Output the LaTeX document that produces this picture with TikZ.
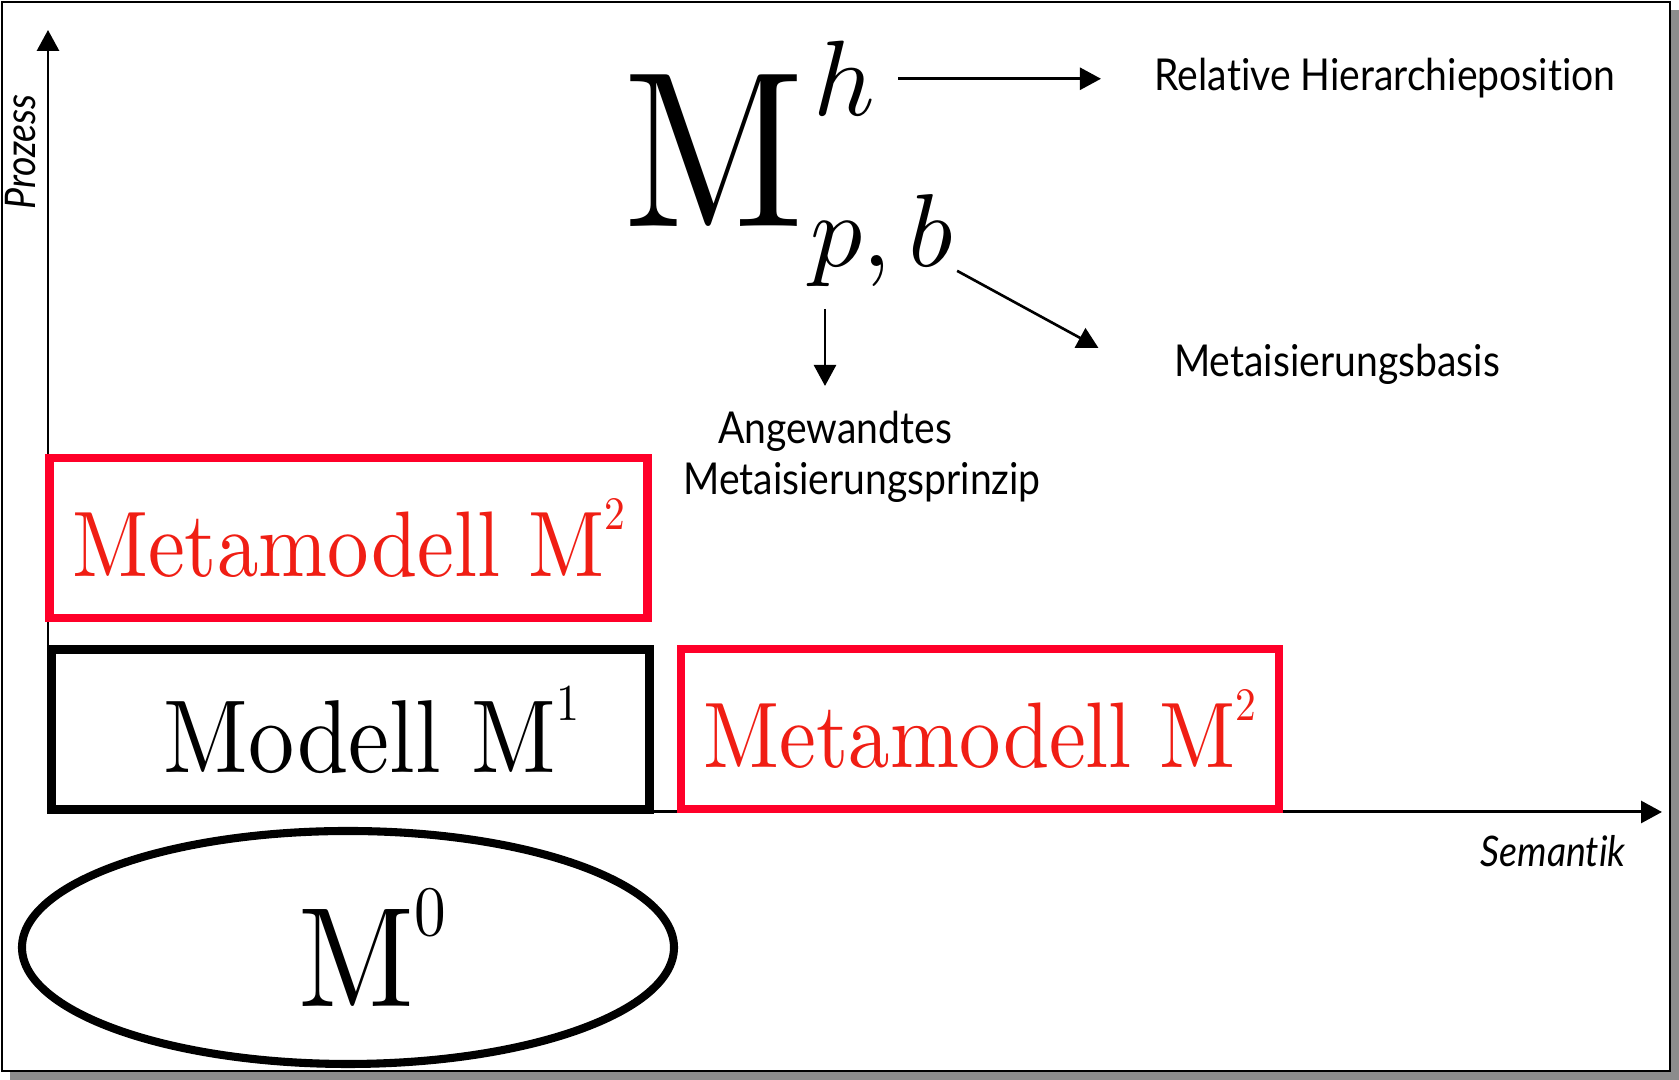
\documentclass[tikz,border=0pt]{standalone}
\usepackage{fontspec}
\usepackage{graphicx}
\usetikzlibrary{arrows.meta,shapes.geometric}
\newfontfamily\labelfont[Ligatures=NoCommon]{Lato}
\newfontfamily\romanten{lmroman10-regular.otf}
\definecolor{frame-shadow}{HTML}{8C8C8C}
\definecolor{box-red}{HTML}{FF0029}
\definecolor{text-red}{HTML}{F01E14}
\newcommand{\squeeze}[1]{\scalebox{0.89}[1]{#1}}
\newcommand{\hoch}[1]{\raisebox{0.5em}{\scalebox{0.5}{#1}}}

\begin{document}
\begin{tikzpicture}[
      axis/.style={line width=0.85pt, -{Triangle[length=2.1mm,width=2.2mm]}},
      pointer/.style={line width=0.75pt, -{Triangle[length=2.1mm,width=2.2mm]}},
      modelbox/.style={draw, line width=2.3pt, inner sep=0pt,
        minimum width=5.98cm, minimum height=1.6cm},
      metabox/.style={modelbox, draw=box-red, text=text-red,
        font=\romanten\fontsize{26.5}{30}\selectfont},
      caption/.style={inner sep=0pt, font=\labelfont\fontsize{12.5}{14.5}\selectfont},
      axislabel/.style={inner sep=0pt, font=\labelfont\itshape\fontsize{12}{14}\selectfont}]
    \useasboundingbox (0,0) rectangle (16.79,10.8);
    % frame with shadow
    \fill[frame-shadow] (0.10,0) rectangle (16.79,10.70);
    \draw[line width=0.8pt, fill=white] (0.02,0.09) rectangle (16.70,10.78);
    % axes
    \coordinate (origin) at (0.48,2.68);
    \coordinate (ytip) at (0.48,10.50);
    \coordinate (xtip) at (16.62,2.68);
    \draw[axis] (origin) -- (ytip);
    \draw[axis] (origin) -- (xtip);
    \node[axislabel, rotate=90] (prozess) at (0.21,9.28) {\squeeze{Prozess}};
    \node[axislabel, anchor=base] (semantik) at (15.53,2.13) {\squeeze{Semantik}};
    % model levels
    \node[metabox] (metaoben) at (3.485,5.42) {\squeeze{Metamodell M\hoch{2}}};
    \node[modelbox, font=\romanten\fontsize{29.5}{32}\selectfont] (modell) at (3.505,3.505)
          {\hspace*{0.42cm}\squeeze{Modell M\hoch{1}}};
    \node[metabox] (metarechts) at (9.80,3.51) {\squeeze{Metamodell M\hoch{2}}};
    \node[draw, ellipse, line width=2.3pt, minimum width=6.52cm, minimum height=2.33cm,
          font=\romanten\fontsize{40.4}{44}\selectfont] (mnull) at (3.48,1.325)
          {\hspace*{0.48cm}\squeeze{M\hoch{0}}};
    % notation
    \node[anchor=base west, inner sep=0pt, font=\romanten\fontsize{63.2}{70}\selectfont]
          (msym) at (6.23,8.53) {\squeeze{M}};
    \node[anchor=base west, inner sep=0pt] (hsup) at (8.13,9.64) {\scalebox{3.05}{$h$}};
    \node[anchor=base west, inner sep=0pt] (pbsub) at (8.10,8.13) {\scalebox{2.95}{$p,b$}};
    \node[caption, anchor=base] (rel) at (13.85,9.89) {\squeeze{Relative Hierarchieposition}};
    \node[caption, anchor=base] (basis) at (13.37,7.03) {\squeeze{Metaisierungsbasis}};
    \node[caption, anchor=north, align=center] (prinzip) at (8.62,6.70)
          {\squeeze{Angewandtes}\hspace*{0.54cm}\\\squeeze{Metaisierungsprinzip}};
    \draw[pointer, shorten <=2.2mm, shorten >=5.3mm] (hsup.east) -- (hsup.east -| rel.west);
    \draw[pointer] ([shift={(0.03,0.17)}]pbsub.south east) -- ([shift={(-0.75,-0.04)}]basis.north west);
    \draw[pointer] ([shift={(0.15,-0.21)}]pbsub.south west) -- ([shift={(-0.37,0.24)}]prinzip.north);
  \end{tikzpicture}
\end{document}
